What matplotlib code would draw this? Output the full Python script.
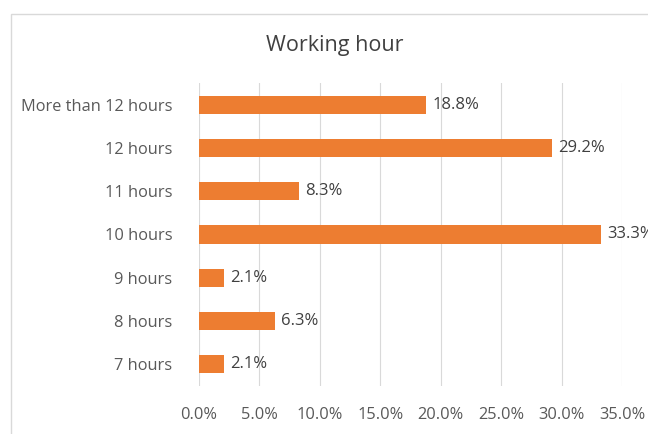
import matplotlib.pyplot as plt
from matplotlib.patches import Rectangle

plt.rcParams['font.family'] = ['Open Sans', 'DejaVu Sans']

categories = ['7 hours', '8 hours', '9 hours', '10 hours', '11 hours', '12 hours', 'More than 12 hours']
shares = [2.1, 6.3, 2.1, 33.3, 8.3, 29.2, 18.8]
xticks = [0, 5, 10, 15, 20, 25, 30, 35]

fig = plt.figure(figsize=(6.48, 4.34), dpi=100)
ax = fig.add_axes([199 / 648, 1 - 386 / 434, 423 / 648, 303 / 434])

# chart frame, only top and left edges fall inside the canvas
fig.patches.append(Rectangle((11 / 648, -0.2), 1.2, 1.2 - 14 / 434,
                             transform=fig.transFigure, fill=False,
                             edgecolor='#d9d9d9', linewidth=1.0))

y = range(len(categories))
ax.barh(y, shares, height=0.42, color='#ED7D31', zorder=3)
for yi, v in zip(y, shares):
    ax.text(v + 0.5, yi, f'{v:.1f}%', va='center', ha='left',
            fontsize=12, color='#404040', zorder=4)

ax.set_xlim(0, 35)
ax.set_ylim(-0.5, len(categories) - 0.5)
ax.set_xticks(xticks)
ax.set_xticklabels([f'{t:.1f}%' for t in xticks])
ax.set_yticks(list(y))
ax.set_yticklabels(categories)
ax.tick_params(axis='both', length=0, labelsize=11.8, labelcolor='#595959')
ax.tick_params(axis='x', pad=15)
ax.tick_params(axis='y', pad=19)
ax.grid(axis='x', color='#d9d9d9', linewidth=0.8, zorder=0)
for s in ax.spines.values():
    s.set_visible(False)

fig.text(335 / 648, 1 - 46 / 434, 'Working hour', ha='center', va='center',
         fontsize=15.5, color='#404040')

fig.savefig('out.png', dpi=100)
